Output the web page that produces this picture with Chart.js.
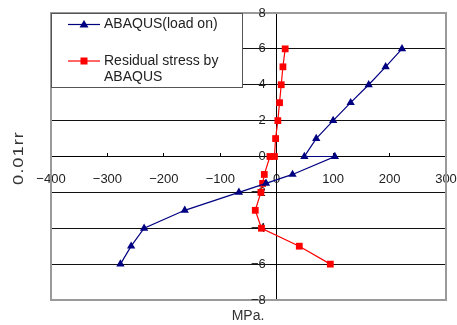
<!DOCTYPE html>
<html><head><meta charset="utf-8">
<script src="https://cdn.jsdelivr.net/npm/chart.js@4/dist/chart.umd.min.js"></script>
<style>html,body{margin:0;padding:0;background:#fff;}#wrap{width:457px;height:325px;}</style>
</head><body><div id="wrap"><canvas id="c" width="457" height="325"></canvas></div>
<script>
// ---- data ----
const seriesNames = ['ABAQUS(load on)', 'Residual stress by ABAQUS'];
const loadOnStress = [222, 193, 163, 131, 100, 70, 49, 103, 28, -19, -67, -163, -235, -258, -277];
const loadOnDepth  = [6, 5, 4, 3, 2, 1, 0, 0, -1, -1.5, -2, -3, -4, -5, -6];
const residualStress = [15, 11, 8, 5, 2, -2, -4, -12, -22, -25, -28, -38, -27, 40, 95];
const residualDepth  = [6, 5, 4, 3, 2, 1, 0, 0, -1, -1.5, -2, -3, -4, -5, -6];
const xTicks = [-400, -300, -200, -100, 0, 100, 200, 300];
const yTicks = [-8, -6, -4, -2, 0, 2, 4, 6, 8];
const xTitle = 'MPa.';
const yTitle = '0.01rr';

const FONT = '"Liberation Sans", Arial, sans-serif';
const fmt = v => (v < 0 ? '\u2212' + Math.abs(v) : String(v));
const toPts = (xs, ys) => xs.map((x, i) => ({x: x, y: ys[i]}));

const decor = {
  id: 'decor',
  beforeDatasetsDraw(chart) {
    const {ctx, chartArea: a} = chart;
    ctx.save();
    ctx.strokeStyle = '#9a9a9a';
    ctx.lineWidth = 2;
    ctx.strokeRect(a.left, a.top, a.right - a.left, a.bottom - a.top);
    // y tick labels, placed left of the y axis (which sits at x = 0)
    const xs = chart.scales.x, ys = chart.scales.y;
    const x0 = xs.getPixelForValue(0);
    ctx.fillStyle = '#222';
    ctx.font = '13px ' + FONT;
    ctx.textAlign = 'right';
    ctx.textBaseline = 'middle';
    yTicks.forEach(v => ctx.fillText(fmt(v), x0 - 11, ys.getPixelForValue(v)));
    ctx.restore();
  },
  afterDraw(chart) {
    const {ctx, chartArea: a} = chart;
    ctx.save();
    // legend box
    const bx = a.left + 0.5, by = a.top + 0.5, bw = 191, bh = 74;
    ctx.fillStyle = '#fff';
    ctx.fillRect(bx, by, bw, bh);
    ctx.strokeStyle = '#555';
    ctx.lineWidth = 1;
    ctx.strokeRect(bx, by, bw, bh);
    ctx.font = '14px ' + FONT;
    ctx.textBaseline = 'middle';
    const wrap = (txt, maxW) => {
      const words = txt.split(' '); const lines = []; let cur = '';
      words.forEach(w => { const t = cur ? cur + ' ' + w : w;
        if (ctx.measureText(t).width > maxW && cur) { lines.push(cur); cur = w; } else cur = t; });
      if (cur) lines.push(cur); return lines;
    };
    const rows = [24.5, 61];
    chart.data.datasets.forEach((ds, i) => {
      const y = rows[i];
      ctx.strokeStyle = ds.borderColor; ctx.lineWidth = 1.2;
      ctx.beginPath(); ctx.moveTo(68, y); ctx.lineTo(100, y); ctx.stroke();
      ctx.fillStyle = ds.backgroundColor;
      ctx.beginPath();
      if (ds.pointStyle === 'triangle') {
        ctx.moveTo(84, y - 4.5); ctx.lineTo(88.5, y + 3); ctx.lineTo(79.5, y + 3); ctx.closePath(); ctx.fill();
      } else {
        ctx.fillRect(80.5, y - 3.5, 7, 7);
      }
      ctx.fillStyle = '#222';
      wrap(ds.label, 130).forEach((ln, k) => ctx.fillText(ln, 104, y + k * 16));
    });
    // axis titles
    ctx.fillStyle = '#333';
    ctx.font = '14px ' + FONT;
    ctx.textAlign = 'center';
    ctx.textBaseline = 'middle';
    ctx.fillText(xTitle, 248, 316);
    ctx.translate(19, 158);
    ctx.rotate(-Math.PI / 2);
    ctx.scale(1.3, 1);
    try { ctx.letterSpacing = '0.8px'; } catch (e) {}
    ctx.fillText(yTitle, 0, 0);
    ctx.restore();
  }
};

new Chart(document.getElementById('c'), {
  type: 'scatter',
  data: {
    datasets: [
      {label: seriesNames[0], data: toPts(loadOnStress, loadOnDepth), showLine: true,
       borderColor: '#000080', backgroundColor: '#000080', borderWidth: 1.2,
       pointStyle: 'triangle', pointRadius: 4.8, pointBorderWidth: 0, tension: 0},
      {label: seriesNames[1], data: toPts(residualStress, residualDepth), showLine: true,
       borderColor: '#ff0000', backgroundColor: '#ff0000', borderWidth: 1.2,
       pointStyle: 'rect', pointRadius: 4.8, pointBorderWidth: 0, tension: 0}
    ]
  },
  options: {
    responsive: false, animation: false, devicePixelRatio: 1,
    layout: {padding: {left: 51, right: 11, top: 13, bottom: 25}},
    plugins: {legend: {display: false}, tooltip: {enabled: false}},
    scales: {
      x: {
        type: 'linear', position: {y: 0}, min: xTicks[0], max: xTicks[xTicks.length - 1],
        afterBuildTicks: s => { s.ticks = xTicks.map(v => ({value: v})); },
        afterFit: s => { s.paddingLeft = 0; s.paddingRight = 0; },
        ticks: {callback: fmt, font: {family: FONT, size: 13}, color: '#222', padding: 19, maxRotation: 0, autoSkip: false},
        grid: {drawOnChartArea: false, drawTicks: true, tickLength: -4, tickColor: '#000', tickWidth: 1},
        border: {display: true, color: '#000', width: 1}
      },
      y: {
        type: 'linear', position: {x: 0}, min: yTicks[0], max: yTicks[yTicks.length - 1],
        afterBuildTicks: s => { s.ticks = yTicks.map(v => ({value: v})); },
        ticks: {display: false},
        afterFit: s => { s.width = 0; s.paddingTop = 0; s.paddingBottom = 0; },
        grid: {drawOnChartArea: true, drawTicks: true, tickLength: 6, tickColor: '#000',
               color: c => (c.tick && Math.abs(c.tick.value) === 8 ? 'rgba(0,0,0,0)' : '#111'), lineWidth: 1},
        border: {display: true, color: '#000', width: 1}
      }
    }
  },
  plugins: [decor]
});
</script></body></html>
